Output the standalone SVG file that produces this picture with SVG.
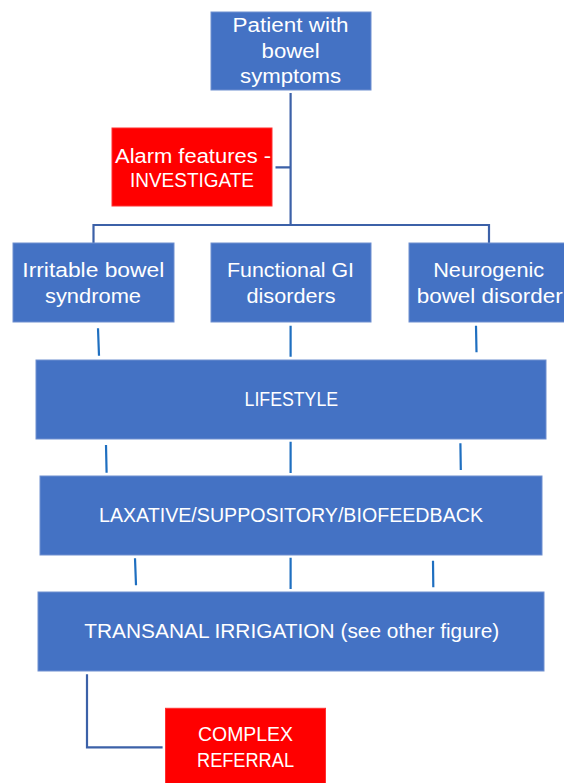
<svg xmlns="http://www.w3.org/2000/svg" width="564" height="783" viewBox="0 0 564 783">
<style>
.b{fill:#4472C4;stroke:#6F8FD0;stroke-width:1}
.r{fill:#FF0000;stroke:#FF3030;stroke-width:1}
text{font-family:"Liberation Sans",Arial,sans-serif;font-size:20px;fill:#FFFFFF;text-anchor:middle}
.c{fill:none;stroke:#3C61A8;stroke-width:2.2}
.s{fill:none;stroke:#1F6FC0;stroke-width:2.2}
</style>
<rect width="564" height="783" fill="#FFFFFF"/>
<g id="connectors">
<path class="c" d="M290.6,93 V225 M275.5,167.3 H290.6 M93.5,243 V225 H489 V243"/>
<path class="s" d="M98,328.3 L99,355.7 M290.6,325.7 V356.7 M476,325.7 L476.5,352.3"/>
<path class="s" d="M106,445 L106.6,472.7 M290.6,441.7 V473 M460.4,443.3 L460.8,470"/>
<path class="s" d="M135,558.3 L136,585.3 M290.6,557.7 V589 M433,560.7 L433.3,587.3"/>
<path class="c" d="M87,674.3 V747.3 H162.6"/>
</g>
<g id="patient">
<rect class="b" x="211" y="12" width="160" height="78"/>
<text x="290.6" y="32" textLength="116" lengthAdjust="spacingAndGlyphs">Patient with</text>
<text x="290.6" y="57.5" textLength="58" lengthAdjust="spacingAndGlyphs">bowel</text>
<text x="290.6" y="83" textLength="101" lengthAdjust="spacingAndGlyphs">symptoms</text>
</g>
<g id="alarm">
<rect class="r" x="112" y="128" width="160" height="78"/>
<text x="193" y="163" textLength="156" lengthAdjust="spacingAndGlyphs">Alarm features -</text>
<text x="192" y="187" textLength="124" lengthAdjust="spacingAndGlyphs">INVESTIGATE</text>
</g>
<g id="ibs">
<rect class="b" x="13" y="243" width="161" height="79"/>
<text x="93.3" y="277" textLength="142" lengthAdjust="spacingAndGlyphs">Irritable bowel</text>
<text x="93" y="303" textLength="96" lengthAdjust="spacingAndGlyphs">syndrome</text>
</g>
<g id="functional">
<rect class="b" x="211" y="243" width="160" height="79"/>
<text x="290.5" y="277" textLength="127" lengthAdjust="spacingAndGlyphs">Functional GI</text>
<text x="291" y="303" textLength="89" lengthAdjust="spacingAndGlyphs">disorders</text>
</g>
<g id="neurogenic">
<rect class="b" x="409" y="243" width="160" height="79"/>
<text x="488.7" y="277" textLength="111" lengthAdjust="spacingAndGlyphs">Neurogenic</text>
<text x="489.7" y="303" textLength="146" lengthAdjust="spacingAndGlyphs">bowel disorder</text>
</g>
<g id="lifestyle">
<rect class="b" x="36" y="360" width="510" height="79"/>
<text x="291.3" y="406" textLength="93.5" lengthAdjust="spacingAndGlyphs">LIFESTYLE</text>
</g>
<g id="laxative">
<rect class="b" x="40" y="476" width="502" height="79"/>
<text x="291" y="522.3" textLength="384" lengthAdjust="spacingAndGlyphs">LAXATIVE/SUPPOSITORY/BIOFEEDBACK</text>
</g>
<g id="transanal">
<rect class="b" x="38" y="592" width="506" height="79"/>
<text x="291.8" y="638.3" textLength="415" lengthAdjust="spacingAndGlyphs">TRANSANAL IRRIGATION (see other figure)</text>
</g>
<g id="complex">
<rect class="r" x="165.5" y="708.3" width="160" height="85"/>
<text x="245.5" y="741.3" textLength="95" lengthAdjust="spacingAndGlyphs">COMPLEX</text>
<text x="245.5" y="767.3" textLength="97" lengthAdjust="spacingAndGlyphs">REFERRAL</text>
</g>
</svg>
